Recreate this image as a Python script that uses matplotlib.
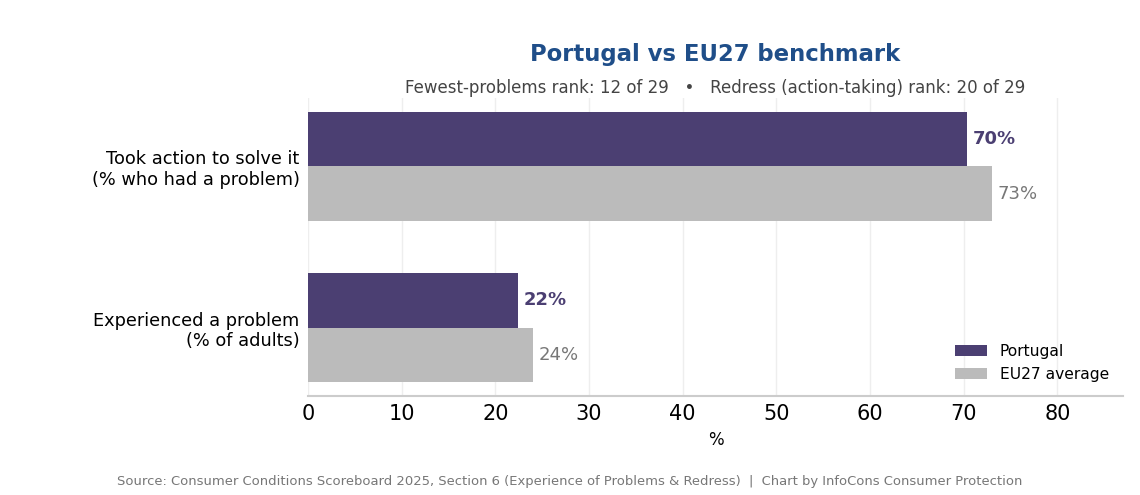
import matplotlib
matplotlib.use("Agg")
import matplotlib.pyplot as plt
import numpy as np

categories = ["Experienced a problem\n(% of adults)", "Took action to solve it\n(% who had a problem)"]
portugal = [22.4, 70.4]
eu27 = [24.0, 73.0]
xticks = [0, 10, 20, 30, 40, 50, 60, 70, 80]

PT_COLOR = "#4B3F72"
EU_COLOR = "#BBBBBB"

fig = plt.figure(figsize=(11.4, 4.95), dpi=100)
ax = fig.add_axes([308 / 1140, 1 - 396 / 495, (1123 - 308) / 1140, (396 - 98) / 495])

y = np.arange(len(categories))
h = 0.34
ax.barh(y + h / 2, portugal, height=h, color=PT_COLOR, label="Portugal", zorder=2)
ax.barh(y - h / 2, eu27, height=h, color=EU_COLOR, label="EU27 average", zorder=2)

for yi, v in zip(y, portugal):
    ax.text(v + 0.6, yi + h / 2, f"{v:.0f}%", va="center", ha="left",
            fontsize=13, fontweight="bold", color=PT_COLOR)
for yi, v in zip(y, eu27):
    ax.text(v + 0.6, yi - h / 2, f"{v:.0f}%", va="center", ha="left",
            fontsize=13, color="#777777")

ax.set_yticks(y)
ax.set_yticklabels(categories, fontsize=12.8)
ax.set_xticks(xticks)
ax.tick_params(axis="x", labelsize=15, length=0, pad=6)
ax.tick_params(axis="y", length=0, pad=6)
ax.set_xlim(0, 87)
ax.set_xlabel("%", fontsize=12, labelpad=5)

ax.grid(axis="x", color="#EEEEEE", linewidth=1, zorder=0)
ax.set_axisbelow(True)
for s in ["top", "right", "left"]:
    ax.spines[s].set_visible(False)
ax.spines["bottom"].set_color("#CCCCCC")
ax.spines["bottom"].set_linewidth(1.5)

ax.legend(loc="lower right", frameon=False, fontsize=11.2, handlelength=2.1,
          bbox_to_anchor=(1.0, 0.0))

fig.text(715 / 1140, 1 - 54 / 495, "Portugal vs EU27 benchmark", ha="center", va="center",
         fontsize=16.4, fontweight="bold", color="#1F4E89")
fig.text(715 / 1140, 1 - 88 / 495,
         "Fewest-problems rank: 12 of 29   \u2022   Redress (action-taking) rank: 20 of 29",
         ha="center", va="center", fontsize=12, color="#444444")
fig.text(570 / 1140, 1 - 482 / 495,
         "Source: Consumer Conditions Scoreboard 2025, Section 6 (Experience of Problems & Redress)  |  Chart by InfoCons Consumer Protection",
         ha="center", va="center", fontsize=9.45, color="#777777")

fig.savefig("out.png", dpi=100)
